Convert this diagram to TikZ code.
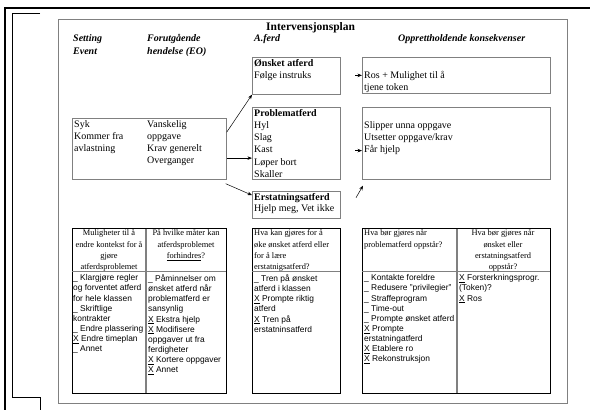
\documentclass[tikz,border=0pt]{standalone}
\usepackage{fontspec}
\setmainfont{Liberation Serif}
\setsansfont{Liberation Sans}
\usetikzlibrary{arrows.meta,calc}
\definecolor{frame}{HTML}{808080}

\tikzset{
  box/.style={draw=frame, line width=0.7pt, inner sep=0pt, anchor=north west},
  tbl/.style={draw=black, line width=1.1pt, inner sep=0pt, anchor=north west},
  txt/.style={inner sep=0pt, anchor=north west, align=left, font=\fontsize{10}{12.2}\selectfont},
  head/.style={inner sep=0pt, anchor=north west, align=left, font=\fontsize{10}{13.5}\selectfont\bfseries\itshape},
  thead/.style={inner sep=0pt, align=center, font=\fontsize{8.4}{11.3}\selectfont},
  tbody/.style={inner sep=0pt, anchor=north west, align=left, font=\sffamily\fontsize{8.4}{10.15}\selectfont},
  sep/.style={draw=frame, line width=0.6pt},
  colsep/.style={draw=frame, line width=1.3pt},
  arr/.style={-{Stealth[length=4.5pt,width=3.5pt]}, line width=0.5pt},
}
\newcommand{\chk}{\underline{X}}

\begin{document}
\begin{tikzpicture}[x=1pt,y=1pt,yscale=-1]
\useasboundingbox (0,0) rectangle (590,410);
\draw [line width=2.5pt] (590,8) -- (5,8) -- (5,410);
\draw [line width=0.6pt] (40,13) -- (12,13) -- (12,397) -- (40,397) -- (40,410);
\draw [frame, line width=0.8pt] (58,19) rectangle (567,403);

\node [inner sep=0pt, anchor=north west, font=\fontsize{11.5}{13}\selectfont\bfseries] (title) at (266,22.5) {Intervensjonsplan};
\node [head] (setting) at (73,34) {Setting\\Event};
\node [head] (forut) at (147,34) {Forutgående\\hendelse (EO)};
\node [head] (aferd) at (254,34) {A.ferd};
\node [head] (oppr) at (398,34) {Opprettholdende konsekvenser};

\node [box, minimum width=154pt, minimum height=61pt] (ctx) at (72,118) {};
\node [txt] (ctx-a) at (74,120) {Syk\\Kommer fra\\avlastning};
\node [txt] (ctx-b) at (147,120) {Vanskelig\\oppgave\\Krav generelt\\Overganger};

\node [box, minimum width=88pt, minimum height=37pt] (onsket) at (252,57) {};
\node [txt] (onsket-t) at (254,59) {\textbf{Ønsket atferd}\\Følge instruks};
\node [box, minimum width=88pt, minimum height=72pt] (problem) at (252,107) {};
\node [txt] (problem-t) at (254,109) {\textbf{Problematferd}\\Hyl\\Slag\\Kast\\Løper bort\\Skaller};
\node [box, minimum width=88pt, minimum height=27pt] (erstat) at (252,191) {};
\node [txt] (erstat-t) at (254,193.5) {\textbf{Erstatningsatferd}\\[-1pt]Hjelp meg, Vet ikke};

\node [box, minimum width=188pt, minimum height=36pt] (cons1) at (362,57) {};
\node [txt] (cons1-t) at (364,71) {Ros + Mulighet til å\\tjene token};
\node [box, minimum width=188pt, minimum height=72pt] (cons2) at (362,107) {};
\node [txt] (cons2-t) at (364,121) {Slipper unna oppgave\\Utsetter oppgave/krav\\Får hjelp};

\draw [arr] ($(ctx.north east)!.23!(ctx.south east)$) -- (onsket.south west);
\draw [arr] ($(ctx.north east)!.65!(ctx.south east)$) coordinate (a2) -- (a2 -| problem.west);
\draw [arr] ($(ctx.south east)+(-1,4)$) -- ($(erstat.north west)!.15!(erstat.south west)$);
\draw [arr] ($(cons1.west)+(-7,0)$) -- (cons1.west);
\draw [arr] ($(cons2.north west)!.6!(cons2.south west)+(-7,0)$) -- ($(cons2.north west)!.6!(cons2.south west)$);
\draw [arr] ($(cons2.south west)+(-6,18)$) -- ($(cons2.south west)+(1,6)$);

\node [tbl, minimum width=154pt, minimum height=165pt] (t1) at (72,228) {};
\draw [sep] (72,271) -- (226,271);
\draw [colsep] (146,228.5) -- (146,392.5);
\node [thead, anchor=north] (t1-h1) at (109,229.5) {Muligheter til å\\endre kontekst for å\\gjøre\\atferdsproblemet};
\node [thead, anchor=north] (t1-h2) at (186,229.5) {På hvilke måter kan\\atferdsproblemet\\\underline{forhindres}?};
\node [tbody] (t1-b1) at (73,274.5) {\_ Klargjøre regler\\og forventet atferd\\for hele klassen\\\_ Skriftlige\\kontrakter\\\_ Endre plassering\\\chk{} Endre timeplan\\\_ Annet};
\node [tbody] (t1-b2) at (148,274.5) {\_ Påminnelser om\\ønsket atferd når\\problematferd er\\sansynlig\\\chk{} Ekstra hjelp\\\chk{} Modifisere\\oppgaver ut fra\\ferdigheter\\\chk{} Kortere oppgaver\\\chk{} Annet};

\node [tbl, minimum width=88pt, minimum height=165pt] (t2) at (252,228) {};
\draw [sep] (252,271) -- (340,271);
\node [thead, anchor=north west, align=left] (t2-h) at (254,229.5) {Hva kan gjøres for å\\øke ønsket atferd eller\\for å lære\\erstatnigsatferd?};
\node [tbody] (t2-b) at (254,274.5) {\_ Tren på ønsket\\atferd i klassen\\\chk{} Prompte riktig\\atferd\\\chk{} Tren på\\erstatninsatferd};

\node [tbl, minimum width=188pt, minimum height=165pt] (t3) at (362,228) {};
\draw [sep] (362,271) -- (550,271);
\draw [colsep] (457,228.5) -- (457,392.5);
\node [thead, anchor=north west, align=left] (t3-h1) at (364,229.5) {Hva bør gjøres når\\problematferd oppstår?};
\node [thead, anchor=north] (t3-h2) at (503,229.5) {Hva bør gjøres når\\ønsket eller\\erstatningsatferd\\oppstår?};
\node [tbody] (t3-b1) at (364,274.5) {\_ Kontakte foreldre\\\_ Redusere "privilegier"\\\_ Straffeprogram\\\_ Time-out\\\_ Prompte ønsket atferd\\\chk{} Prompte\\erstatningatferd\\\chk{} Etablere ro\\\chk{} Rekonstruksjon};
\node [tbody] (t3-b2) at (459,274.5) {\chk{} Forsterkningsprogr.\\(Token)?\\\chk{} Ros};
\end{tikzpicture}
\end{document}
